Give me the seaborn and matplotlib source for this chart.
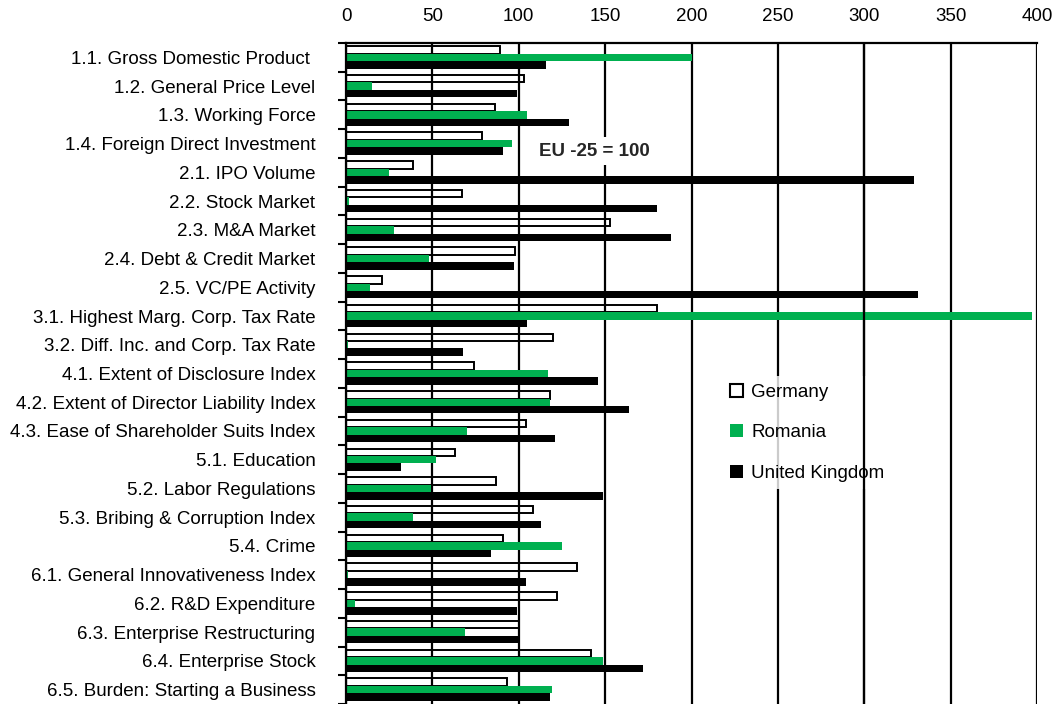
import numpy as np
import pandas as pd
import matplotlib
matplotlib.use("Agg")
import matplotlib.pyplot as plt
from matplotlib.patches import Patch
from matplotlib.ticker import FixedLocator
import seaborn as sns

# datos (EU-25 = 100)
categorias = [
    "1.1. Gross Domestic Product ",
    "1.2. General Price Level",
    "1.3. Working Force",
    "1.4. Foreign Direct Investment",
    "2.1. IPO Volume",
    "2.2. Stock Market",
    "2.3. M&A Market",
    "2.4. Debt & Credit Market",
    "2.5. VC/PE Activity",
    "3.1. Highest Marg. Corp. Tax Rate",
    "3.2. Diff. Inc. and Corp. Tax Rate",
    "4.1. Extent of Disclosure Index",
    "4.2. Extent of Director Liability Index",
    "4.3. Ease of Shareholder Suits Index",
    "5.1. Education",
    "5.2. Labor Regulations",
    "5.3. Bribing & Corruption Index",
    "5.4. Crime",
    "6.1. General Innovativeness Index",
    "6.2. R&D Expenditure",
    "6.3. Enterprise Restructuring",
    "6.4. Enterprise Stock",
    "6.5. Burden: Starting a Business",
]
paises = ["Germany", "Romania", "United Kingdom"]
germany = [89, 103, 86, 79, 39, 67, 153, 98, 21, 180, 120, 74, 118, 104, 63, 87, 108, 91, 134, 122, 100, 142, 93]
romania = [200, 15, 105, 96, 25, 1.5, 28, 48, 14, 397, 1, 117, 118, 70, 52, 49, 39, 125, 1, 5, 69, 149, 119]
uk = [116, 99, 129, 91, 329, 180, 188, 97, 331, 105, 68, 146, 164, 121, 32, 149, 113, 84, 104, 99, 100, 172, 118]
ticks_x = [0, 50, 100, 150, 200, 250, 300, 350, 400]

colores = {"Germany": "white", "Romania": "#00B050", "United Kingdom": "black"}

df = pd.DataFrame({
    "Indicador": categorias * 3,
    "Valor": germany + romania + uk,
    "Pais": [p for p in paises for _ in categorias],
})

sns.set_style("white")
plt.rcParams["font.family"] = ["Liberation Sans", "DejaVu Sans"]

fig, ax = plt.subplots(figsize=(10.58, 7.04), dpi=100)
fig.subplots_adjust(left=346 / 1058, right=1037 / 1058, top=1 - 43 / 704, bottom=0.0)

sns.barplot(data=df, y="Indicador", x="Valor", hue="Pais", order=categorias,
            hue_order=paises, palette=colores, width=0.78, saturation=1,
            linewidth=0, legend=False, ax=ax)

# barras de Alemania huecas con borde negro
for barra in ax.containers[0]:
    barra.set_facecolor("none")
    barra.set_edgecolor("black")
    barra.set_linewidth(1.4)

ax.set_xlim(0, 400)
ax.set_xticks(ticks_x)
ax.xaxis.tick_top()
ax.tick_params(axis="x", length=0, pad=13, labelsize=13.5, labelcolor="black")
ax.set_xlabel("")
ax.set_ylabel("")

ax.tick_params(axis="y", which="major", length=0, pad=22, labelsize=13.5, labelcolor="black")
ax.yaxis.set_minor_locator(FixedLocator(np.arange(-0.5, len(categorias), 1)))
ax.tick_params(axis="y", which="minor", length=6, width=1.5, color="black", direction="out", left=True)

ax.grid(axis="x", color="black", linewidth=1.6)
ax.grid(axis="y", visible=False)
ax.set_axisbelow(True)

for lado in ["left", "top"]:
    ax.spines[lado].set_color("black")
    ax.spines[lado].set_linewidth(1.6)
for lado in ["right", "bottom"]:
    ax.spines[lado].set_visible(False)

ax.text(144, 3.26, "EU -25 = 100", fontsize=13.5, fontweight="bold", ha="center",
        va="center", bbox=dict(facecolor="white", edgecolor="none", pad=4))

manijas = [
    Patch(facecolor="white", edgecolor="black", linewidth=1.5, label="Germany"),
    Patch(facecolor="#00B050", edgecolor="none", label="Romania"),
    Patch(facecolor="black", edgecolor="none", label="United Kingdom"),
]
leg = ax.legend(handles=manijas, loc="center left",
                bbox_to_anchor=(722 / 1058, 1 - 432.7 / 704),
                bbox_transform=fig.transFigure, borderaxespad=0, borderpad=0.4,
                frameon=True, fancybox=False, fontsize=13.5, handlelength=0.7,
                handleheight=0.7, handletextpad=0.45, labelspacing=1.25)
leg.get_frame().set_facecolor("white")
leg.get_frame().set_edgecolor("none")
for t in leg.get_texts():
    t.set_color("black")

# la linea de 300 pasa por encima de la leyenda, como en el original
ax.axvline(300, color="black", linewidth=1.6, zorder=6)

fig.savefig("out.png", dpi=100)
